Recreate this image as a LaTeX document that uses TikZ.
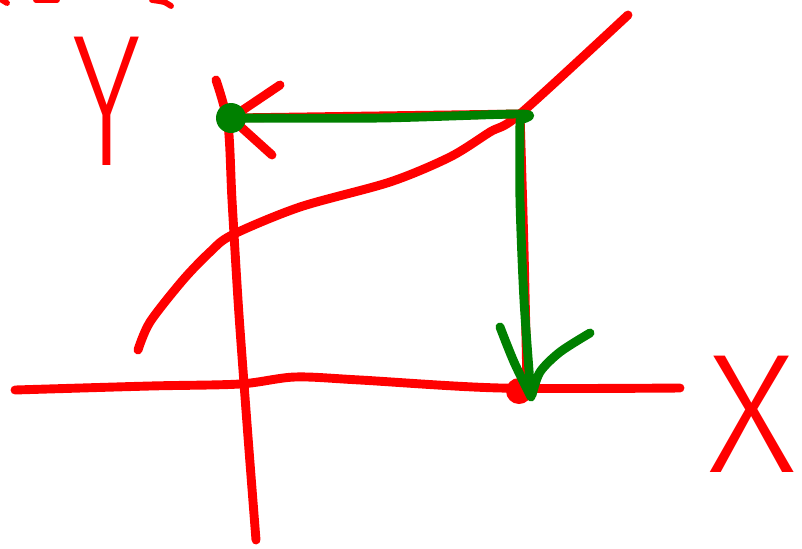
\documentclass[tikz,border=0pt]{standalone}
\usepackage{fontspec}
\usepackage{graphicx}
\newfontfamily\sketchfont{Fira Sans Light}
\definecolor{penred}{RGB}{255,0,0}
\definecolor{pengreen}{RGB}{0,128,0}
\begin{document}
\begin{tikzpicture}[x=0.03cm,y=-0.03cm,
  pen/.style={line width=7.6pt, line cap=round, line join=round},
  redpen/.style={pen,draw=penred},
  greenpen/.style={pen,draw=pengreen},
  letter/.style={text=penred, inner sep=0pt, anchor=base}]
\useasboundingbox (0,0) rectangle (802,548);
\coordinate (P) at (231,118);
\coordinate (Q) at (520,114);
\coordinate (R) at (519,391);
% cut-off strokes at the top edge
\draw[redpen,line width=5pt] (2,0) -- (7,3);
\draw[redpen,line width=5pt] (36,0) -- (57,0);
\draw[redpen,line width=5pt] plot[smooth] coordinates {(152,0) (164,2) (171,6)};
% axes
\draw[redpen] plot[smooth] coordinates {(15,390) (150,386) (240,384) (295,377) (360,380) (500,388) (680,388)};
\draw[redpen] plot[smooth] coordinates {(216,80) (228,125) (232,200) (238,300) (243,370) (249,450) (256,540)};
% curve
\draw[redpen] plot[smooth] coordinates {(138,350) (150,322) (183,280) (210,252) (232,235) (300,207) (390,182) (450,157) (490,132) (Q) (628,15)};
% red arrow at Y axis
\draw[redpen] (P) -- (280,85);
\draw[redpen] (P) -- (272,155);
\draw[redpen] (P) -- (Q);
\draw[redpen] plot[smooth] coordinates {(Q) (524,250) (527,385)};
\fill[penred] (R) circle (13);
% green path
\draw[greenpen] plot[smooth] coordinates {(P) (380,118) (Q) (523,119)};
\draw[greenpen] plot[smooth] coordinates {(520,120) (520,200) (524,300) (531,396)};
\draw[greenpen] plot[smooth] coordinates {(500,327) (514,362) (531,397)};
\draw[greenpen] plot[smooth] coordinates {(590,333) (560,352) (540,372) (532,395)};
\fill[pengreen] (P) circle (15);
% letters
\node[letter] (ylab) at (107,165) {\fontsize{160}{160}\sketchfont\scalebox{0.7}[1]{Y}};
\node[letter] (xlab) at (752,472) {\fontsize{145}{145}\sketchfont X};
\end{tikzpicture}
\end{document}
